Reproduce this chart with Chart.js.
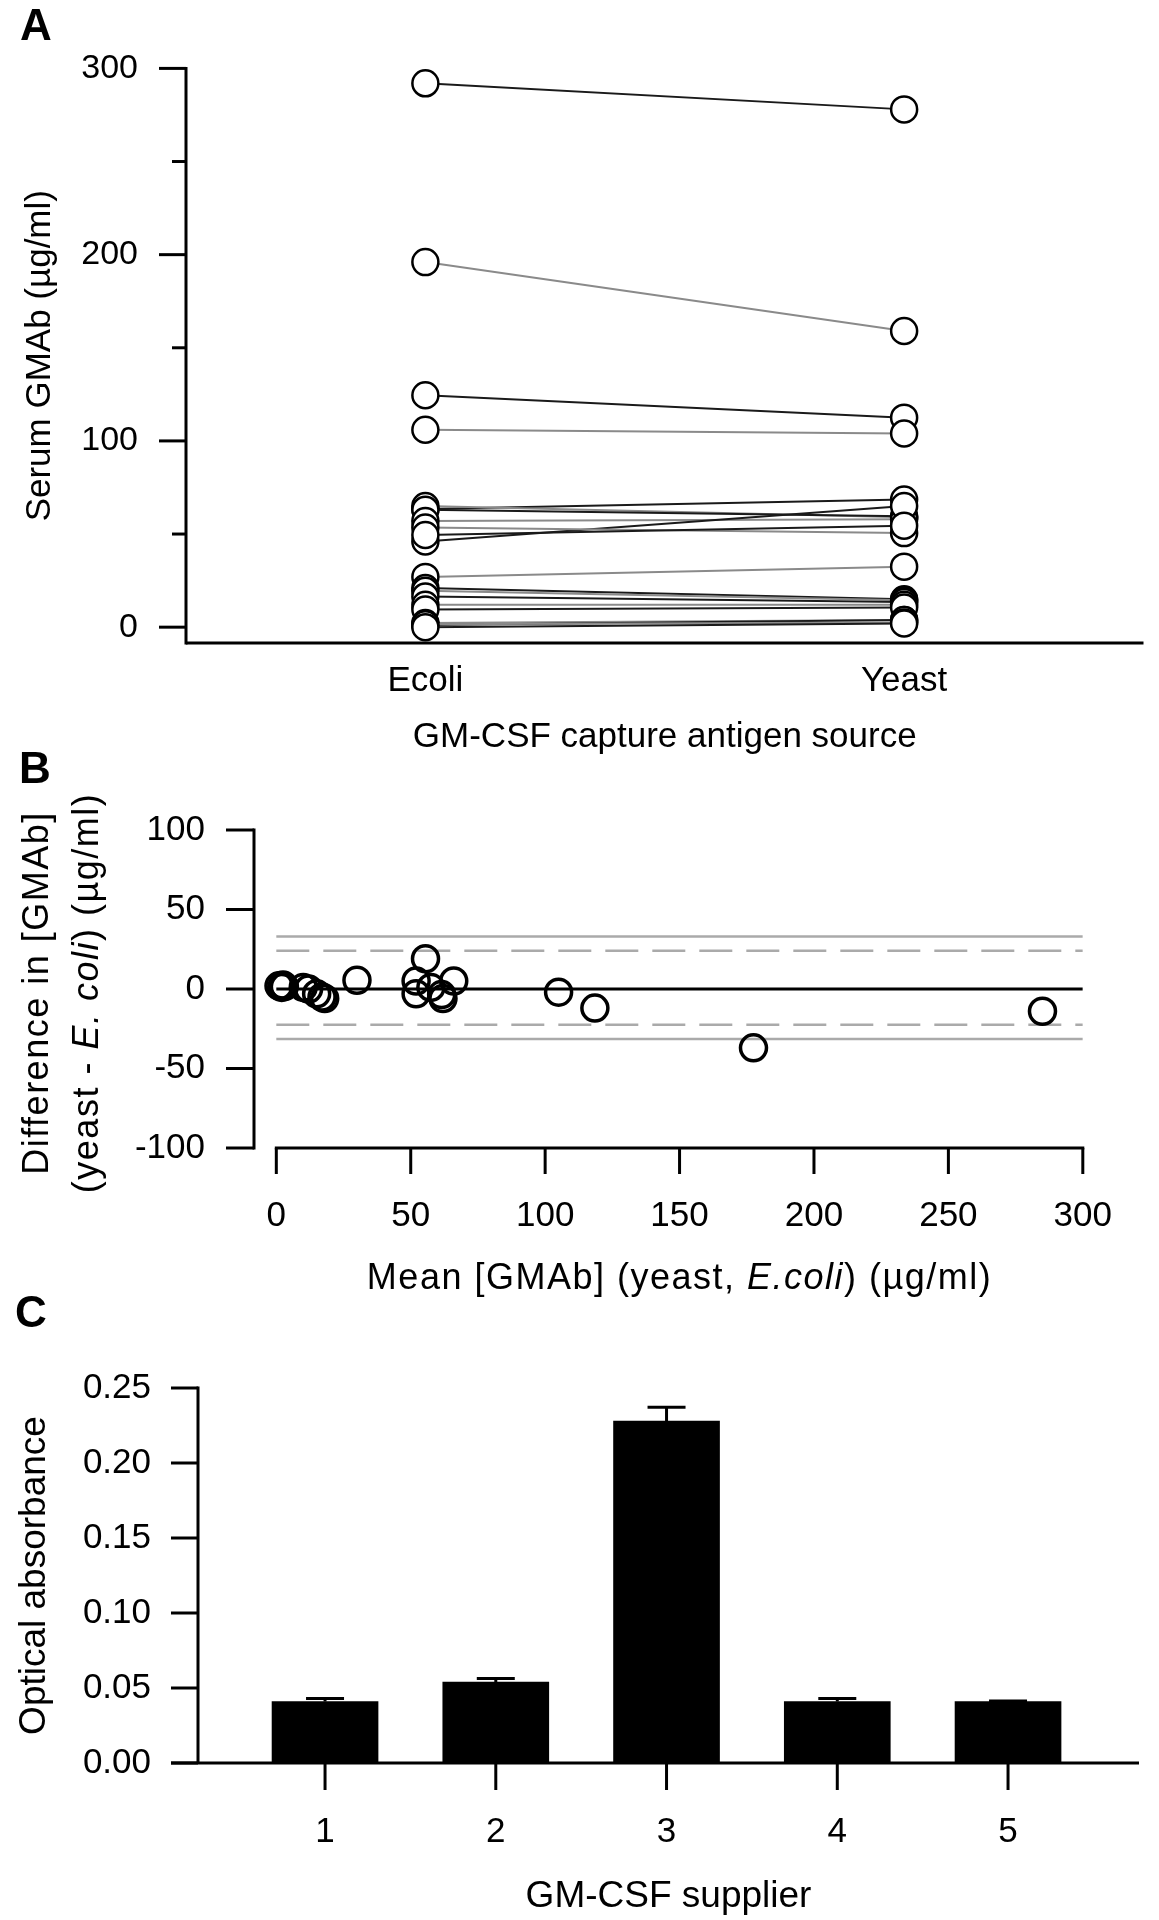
<!DOCTYPE html>
<html>
<head>
<meta charset="utf-8">
<script src="https://cdn.jsdelivr.net/npm/chart.js@4.4.1/dist/chart.umd.min.js"></script>
<style>
  html, body { margin: 0; padding: 0; background: #fff; }
  #page { position: relative; width: 1159px; height: 1920px; }
  canvas { position: absolute; left: 0; }
  .tag { position: absolute; font: bold 44px "Liberation Sans", Arial, sans-serif; line-height: 44px; color: #000; }
</style>
</head>
<body>
<div id="page">
  <canvas id="chartA" width="1159" height="760" style="top:0"></canvas>
  <canvas id="chartB" width="1159" height="560" style="top:760px"></canvas>
  <canvas id="chartC" width="1159" height="600" style="top:1320px"></canvas>
  <div class="tag" style="left:20px;top:3px">A</div>
  <div class="tag" style="left:19px;top:746px">B</div>
  <div class="tag" style="left:15px;top:1290px">C</div>
</div>
<script>
// Panel A: serum GMAb per subject, measured with E. coli vs yeast GM-CSF (µg/ml)
const sources = ['Ecoli', 'Yeast'];
const ecoliGMAb = [0, 1.5, 1.2, 2.2, 9.5, 12, 16.5, 19.5, 21, 27, 49.5, 53.5, 46, 57, 63, 65, 63.5, 106, 124.5, 196, 292];
const yeastGMAb = [2, 2.5, 3.8, 3.8, 10.5, 12, 13.5, 14.5, 15, 32.5, 54.5, 50.5, 65, 58, 59.5, 59, 68.5, 104, 112.5, 159, 278];
const aTicksMajor = [0, 100, 200, 300];
const aTicksMinor = [50, 150, 250];

// Panel B: Bland-Altman (mean vs difference)
const baMean = [1, 2, 2.5, 3, 10, 12, 15, 17, 18, 30, 52, 52, 55.5, 57.5, 61.5, 62, 66, 105, 118.5, 177.5, 285];
const baDiff = [2, 1, 2.5, 1.5, 1, 0, -3, -5, -6, 5.5, 5, -3, 19, 1, -3.5, -6, 5, -2, -12, -37, -14];
const baBias = 0;
const baInner = [24, -22.5];   // dashed
const baOuter = [33, -31.5];   // solid grey
const bTicksX = [0, 50, 100, 150, 200, 250, 300];
const bTicksY = [-100, -50, 0, 50, 100];

// Panel C: optical absorbance by GM-CSF supplier
const suppliers = [1, 2, 3, 4, 5];
const absorbance = [0.041, 0.054, 0.228, 0.041, 0.041];
const absorbanceErr = [0.002, 0.0024, 0.0092, 0.002, 0.0004];
const cTicksY = [0, 0.05, 0.10, 0.15, 0.20, 0.25];

function fontAvailable(family) {
    const ctx = document.createElement('canvas').getContext('2d');
    const sample = 'GM-CSF capture antigen 300';
    ctx.font = '40px monospace';
    const base = ctx.measureText(sample).width;
    ctx.font = `40px "${family}", monospace`;
    return ctx.measureText(sample).width !== base;
}

const narrow = fontAvailable('Liberation Sans Narrow');
const fontA = narrow
    ? { family: '"Liberation Sans Narrow", sans-serif', tick: 40, label: 43 }
    : { family: '"Liberation Sans", Arial, sans-serif', tick: 34, label: 35 };
const sans = '"Liberation Sans", Arial, sans-serif';

function strokeLine(ctx, x1, y1, x2, y2) {
    ctx.beginPath();
    ctx.moveTo(x1, y1);
    ctx.lineTo(x2, y2);
    ctx.stroke();
}

function drawRich(ctx, parts, x, y, rotation) {
    ctx.save();
    ctx.translate(x, y);
    ctx.rotate(rotation);
    ctx.textBaseline = 'middle';
    ctx.textAlign = 'left';
    ctx.fillStyle = '#000';
    ctx.letterSpacing = '1.5px';
    const widths = parts.map(p => { ctx.font = p.font; return ctx.measureText(p.text).width; });
    let cx = -widths.reduce((s, w) => s + w, 0) / 2;
    parts.forEach((p, i) => {
        ctx.font = p.font;
        ctx.fillText(p.text, cx, 0);
        cx += widths[i];
    });
    ctx.restore();
}

const noGrid = { display: false, drawTicks: false };
const noBorder = { display: false };
const baseOptions = {
    responsive: false,
    animation: false,
    events: [],
    plugins: { legend: { display: false }, tooltip: { enabled: false } }
};

// ---------- A ----------
const axesA = {
    id: 'axesA',
    beforeDatasetsDraw(chart) {
        const { ctx, chartArea: a, scales: { y } } = chart;
        ctx.save();
        ctx.strokeStyle = '#000';
        ctx.lineWidth = 3;
        strokeLine(ctx, a.left, y.getPixelForValue(300) - 1.5, a.left, a.bottom + 1.5);
        strokeLine(ctx, a.left, a.bottom, a.right, a.bottom);
        aTicksMajor.forEach(v => strokeLine(ctx, a.left - 27, y.getPixelForValue(v), a.left, y.getPixelForValue(v)));
        aTicksMinor.forEach(v => strokeLine(ctx, a.left - 14, y.getPixelForValue(v), a.left, y.getPixelForValue(v)));
        ctx.restore();
    }
};

const subjectsA = ecoliGMAb.map((e, i) => ({
    data: [e, yeastGMAb[i]],
    borderColor: i % 2 ? '#8a8a8a' : '#1a1a1a',
    borderWidth: 2,
    pointRadius: 13,
    pointBorderWidth: 2.5,
    pointBorderColor: '#000',
    pointBackgroundColor: '#fff',
    clip: false
}));

new Chart(document.getElementById('chartA'), {
    type: 'line',
    data: { labels: sources, datasets: subjectsA },
    options: {
        ...baseOptions,
        layout: { padding: { top: 62, right: 7, left: 0, bottom: 0 } },
        scales: {
            x: {
                type: 'category',
                offset: true,
                grid: noGrid,
                border: noBorder,
                ticks: { color: '#000', font: { family: fontA.family, size: fontA.label, lineHeight: 1.2 }, padding: 38 - 0.6 * fontA.label },
                title: {
                    display: true, text: 'GM-CSF capture antigen source', color: '#000',
                    font: { family: fontA.family, size: fontA.label, lineHeight: 46 / fontA.label }, padding: 0
                },
                afterFit: s => { s.height = 117; }
            },
            y: {
                min: -8.5,
                max: 300,
                grid: noGrid,
                border: noBorder,
                ticks: { color: '#000', font: { family: fontA.family, size: fontA.tick }, padding: 48 },
                afterBuildTicks: s => { s.ticks = aTicksMajor.map(v => ({ value: v })); },
                title: {
                    display: true, text: 'Serum GMAb (µg/ml)', color: '#000',
                    font: { family: fontA.family, size: fontA.label, lineHeight: 46 / fontA.label }, padding: { top: 17, bottom: 0 }
                },
                afterFit: s => { s.width = 186; }
            }
        }
    },
    plugins: [axesA]
});

// ---------- B ----------
const axesB = {
    id: 'axesB',
    beforeDatasetsDraw(chart) {
        const { ctx, chartArea: a, scales: { x, y } } = chart;
        ctx.save();
        ctx.strokeStyle = '#000';
        ctx.lineWidth = 3;
        strokeLine(ctx, a.left, y.getPixelForValue(100) - 1.5, a.left, y.getPixelForValue(-100) + 1.5);
        bTicksY.forEach(v => strokeLine(ctx, a.left - 28, y.getPixelForValue(v), a.left, y.getPixelForValue(v)));
        strokeLine(ctx, x.getPixelForValue(0) - 1.5, a.bottom, x.getPixelForValue(300) + 1.5, a.bottom);
        bTicksX.forEach(v => strokeLine(ctx, x.getPixelForValue(v), a.bottom, x.getPixelForValue(v), a.bottom + 26));
        ctx.restore();
    },
    afterDraw(chart) {
        const { ctx, chartArea: a, scales: { x } } = chart;
        const reg = `36px ${sans}`;
        const ital = `italic 36px ${sans}`;
        const midY = (a.top + a.bottom) / 2 + 4;
        drawRich(ctx, [{ text: 'Difference in [GMAb]', font: reg }], 38, midY, -Math.PI / 2);
        drawRich(ctx, [
            { text: '(yeast - ', font: reg },
            { text: 'E. coli', font: ital },
            { text: ') (µg/ml)', font: reg }
        ], 88, midY, -Math.PI / 2);
        const cx = (x.getPixelForValue(0) + x.getPixelForValue(300)) / 2;
        drawRich(ctx, [
            { text: 'Mean [GMAb] (yeast, ', font: reg },
            { text: 'E.coli', font: ital },
            { text: ') (µg/ml)', font: reg }
        ], cx, a.bottom + 131, 0);
    }
};

const hLine = (v, color, width, dash) => ({
    type: 'line',
    data: [{ x: 0, y: v }, { x: 300, y: v }],
    borderColor: color,
    borderWidth: width,
    borderDash: dash,
    pointRadius: 0,
    order: 1
});

new Chart(document.getElementById('chartB'), {
    type: 'scatter',
    data: {
        datasets: [
            {
                data: baMean.map((m, i) => ({ x: m, y: baDiff[i] })),
                pointRadius: 13,
                pointBorderWidth: 3.5,
                pointBorderColor: '#000',
                pointBackgroundColor: 'rgba(0,0,0,0)',
                clip: false,
                order: 0
            },
            hLine(baBias, '#000', 3, []),
            ...baInner.map(v => hLine(v, '#aaaaaa', 2.5, [33, 14])),
            ...baOuter.map(v => hLine(v, '#aaaaaa', 2.5, []))
        ]
    },
    options: {
        ...baseOptions,
        layout: { padding: { top: 45, right: 65, left: 0, bottom: 0 } },
        scales: {
            x: {
                type: 'linear',
                min: -8.3,
                max: 300,
                grid: noGrid,
                border: noBorder,
                ticks: { color: '#000', font: { family: sans, size: 35, lineHeight: 1.2 }, padding: 47 },
                afterBuildTicks: s => { s.ticks = bTicksX.map(v => ({ value: v })); },
                afterFit: s => { s.height = 172; }
            },
            y: {
                min: -100,
                max: 100,
                grid: noGrid,
                border: noBorder,
                ticks: { color: '#000', font: { family: sans, size: 35 }, padding: 49 },
                afterBuildTicks: s => { s.ticks = bTicksY.map(v => ({ value: v })); },
                afterFit: s => { s.width = 254; }
            }
        }
    },
    plugins: [axesB]
});

// ---------- C ----------
const axesC = {
    id: 'axesC',
    afterDatasetsDraw(chart) {
        const { ctx, chartArea: a, scales: { x, y } } = chart;
        ctx.save();
        ctx.strokeStyle = '#000';
        ctx.lineWidth = 3;
        strokeLine(ctx, a.left, y.getPixelForValue(0.25) - 1.5, a.left, a.bottom);
        strokeLine(ctx, a.left - 27, a.bottom, a.right, a.bottom);
        cTicksY.forEach(v => strokeLine(ctx, a.left - 27, y.getPixelForValue(v), a.left, y.getPixelForValue(v)));
        suppliers.forEach(v => strokeLine(ctx, x.getPixelForValue(v), a.bottom, x.getPixelForValue(v), a.bottom + 27));
        // upper error bars
        suppliers.forEach((s, i) => {
            const px = x.getPixelForValue(s);
            const top = y.getPixelForValue(absorbance[i] + absorbanceErr[i]);
            strokeLine(ctx, px, y.getPixelForValue(absorbance[i]), px, top);
            strokeLine(ctx, px - 19, top, px + 19, top);
        });
        ctx.restore();
    }
};

new Chart(document.getElementById('chartC'), {
    type: 'bar',
    data: {
        datasets: [{
            data: suppliers.map((s, i) => ({ x: s, y: absorbance[i] })),
            backgroundColor: '#000',
            borderWidth: 0,
            barThickness: 106
        }]
    },
    options: {
        ...baseOptions,
        layout: { padding: { top: 31, right: 20, left: 0, bottom: 0 } },
        scales: {
            x: {
                type: 'linear',
                offset: false,
                min: 0.256,
                max: 5.767,
                grid: { display: false, drawTicks: false, offset: false },
                border: noBorder,
                ticks: { color: '#000', font: { family: sans, size: 35, lineHeight: 1.2 }, padding: 48, callback: v => String(v) },
                afterBuildTicks: s => { s.ticks = suppliers.map(v => ({ value: v })); },
                title: {
                    display: true, text: 'GM-CSF supplier', color: '#000',
                    font: { family: sans, size: 37, lineHeight: 46 / 37 }, padding: 0
                },
                afterFit: s => { s.height = 157; }
            },
            y: {
                min: 0,
                max: 0.25,
                grid: noGrid,
                border: noBorder,
                ticks: { color: '#000', font: { family: sans, size: 35 }, padding: 47, callback: v => v.toFixed(2) },
                afterBuildTicks: s => { s.ticks = cTicksY.map(v => ({ value: v })); },
                title: {
                    display: true, text: 'Optical absorbance', color: '#000',
                    font: { family: sans, size: 37, lineHeight: 46 / 37 }, padding: { top: 12, bottom: 0 }
                },
                afterFit: s => { s.width = 198; }
            }
        }
    },
    plugins: [axesC]
});
</script>
</body>
</html>
